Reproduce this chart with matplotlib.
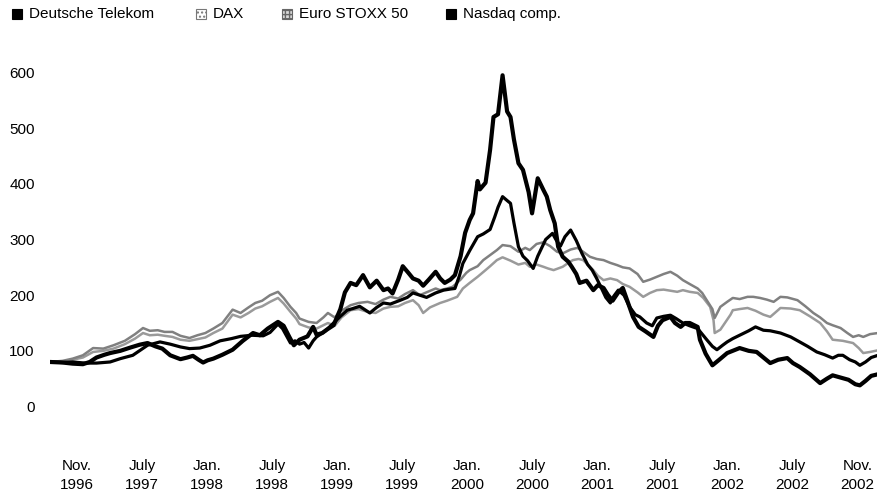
import numpy as np
import matplotlib
matplotlib.use("Agg")
import matplotlib.pyplot as plt
from matplotlib.patches import Rectangle

plt.rcParams['font.family'] = ['Liberation Sans', 'DejaVu Sans']

# months since start of Nov. 1996, index values
dt_months = [0.0, 1.1, 2.0, 2.9, 3.5, 4.1, 4.8, 5.3, 6.2, 7.1,
             7.9, 8.6, 9.3, 9.9, 10.6, 11.5, 12.1, 12.6, 13.1, 13.5,
             13.9, 14.4, 15.2, 16.1, 17.0, 17.9, 18.5, 19.2, 20.1, 20.6,
             21.1, 21.5, 22.0, 22.7, 23.2, 23.5, 24.0, 24.4, 25.0, 25.6,
             26.0, 26.5, 27.0, 27.6, 28.2, 28.8, 29.4, 29.8, 30.2, 30.7,
             31.1, 31.6, 32.0, 32.5, 32.9, 33.4, 34.0, 34.4, 34.8, 35.3,
             35.7, 36.2, 36.6, 37.0, 37.3, 37.7, 37.9, 38.4, 38.8, 39.1,
             39.5, 39.9, 40.3, 40.6, 40.9, 41.3, 41.7, 42.2, 42.5, 43.0,
             43.5, 43.8, 44.1, 44.5, 44.8, 45.2, 45.7, 46.0, 46.4, 46.7,
             47.3, 47.9, 48.3, 48.8, 49.2, 49.6, 50.1, 50.5, 50.9, 51.4,
             51.9, 52.5, 53.2, 53.6, 54.0, 54.7, 55.1, 55.6, 56.0, 56.4,
             57.1, 57.3, 57.8, 58.4, 59.0, 59.7, 60.2, 60.8, 61.6, 62.3,
             62.9, 63.5, 64.2, 65.0, 65.5, 66.1, 67.0, 67.9, 68.5, 69.0,
             69.7, 70.4, 71.0, 71.4, 71.9, 72.4, 73.0]
dt_values = [80, 79, 77, 76, 80, 88, 93, 96, 100, 106,
             111, 114, 108, 104, 92, 85, 88, 91, 84, 79,
             83, 86, 93, 102, 118, 132, 128, 140, 152, 145,
             125, 110, 120, 126, 143, 129, 132, 138, 146, 175,
             205, 222, 218, 236, 214, 226, 209, 212, 203, 228,
             252, 240, 230, 226, 217, 228, 242, 230, 222, 228,
             236, 270, 312, 335, 347, 405, 390, 402, 461, 520,
             525, 595, 530, 520, 480, 437, 425, 385, 347, 410,
             389, 377, 353, 329, 287, 269, 260, 251, 238, 222,
             226, 209, 218, 213, 200, 190, 205, 213, 190, 161,
             143, 135, 125, 145, 155, 161, 150, 143, 150, 150,
             143, 120, 95, 74, 84, 96, 100, 105, 100, 98,
             88, 78, 84, 87, 78, 71, 58, 42, 50, 56,
             52, 48, 40, 38, 46, 55, 58]

nasdaq_months = [0.0, 1.1, 2.0, 3.1, 4.1, 5.3, 6.2, 7.3, 8.6, 9.7,
                 10.6, 11.5, 12.3, 13.2, 14.1, 15.0, 16.0, 16.8, 17.8, 18.8,
                 19.4, 20.1, 20.5, 21.2, 21.6, 22.0, 22.4, 22.8, 23.2, 23.5,
                 24.3, 25.0, 25.6, 26.2, 26.7, 27.3, 27.9, 28.2, 28.8, 29.4,
                 30.0, 30.9, 31.5, 32.0, 32.6, 33.2, 34.0, 34.7, 35.3, 35.7,
                 36.1, 36.4, 37.0, 37.7, 38.2, 38.8, 39.2, 39.5, 39.9, 40.3,
                 40.6, 40.9, 41.3, 41.7, 42.1, 42.6, 43.0, 43.7, 44.3, 44.6,
                 45.0, 45.4, 45.9, 46.4, 46.9, 47.4, 47.8, 48.2, 48.7, 49.0,
                 49.4, 49.7, 50.1, 50.6, 51.1, 51.6, 52.0, 52.6, 53.1, 53.5,
                 54.1, 54.7, 55.2, 55.8, 56.4, 57.1, 57.5, 57.9, 58.4, 58.8,
                 59.3, 59.7, 60.2, 60.8, 61.6, 62.2, 62.9, 63.5, 64.4, 65.3,
                 66.1, 66.8, 67.6, 68.3, 69.0, 69.5, 69.9, 70.5, 71.0, 71.4,
                 71.9, 72.4, 73.0]
nasdaq_values = [80, 79, 80, 78, 78, 80, 86, 92, 110, 116,
                 112, 107, 104, 105, 110, 118, 122, 126, 128, 127,
                 133, 148, 140, 114, 118, 112, 115, 105, 118, 125,
                 136, 150, 162, 173, 176, 180, 172, 168, 178, 186,
                 184, 191, 196, 204, 200, 196, 204, 209, 211, 212,
                 235, 257, 280, 305, 310, 318, 340, 358, 377, 370,
                 365, 330, 287, 270, 262, 248, 270, 300, 311, 300,
                 288, 305, 317, 298, 275, 255, 245, 230, 209, 196,
                 186, 198, 209, 200, 179, 165, 161, 150, 145, 159,
                 162, 164, 158, 150, 145, 140, 130, 120, 108, 102,
                 110, 116, 122, 128, 136, 143, 137, 136, 132, 125,
                 116, 108, 98, 93, 87, 92, 92, 84, 80, 74,
                 80, 88, 92]

stoxx_months = [0.0, 1.1, 2.0, 2.9, 3.8, 4.7, 5.6, 6.6, 7.5, 8.2,
                8.8, 9.5, 10.1, 10.8, 11.5, 12.3, 13.0, 13.7, 14.4, 15.2,
                16.1, 16.8, 17.5, 18.1, 18.7, 19.4, 20.1, 20.6, 21.2, 21.7,
                22.0, 22.8, 23.5, 24.1, 24.5, 25.1, 25.7, 26.5, 27.2, 28.0,
                28.7, 29.4, 30.0, 30.7, 31.3, 32.0, 32.6, 33.3, 34.0, 34.4,
                35.0, 35.5, 36.2, 36.7, 37.0, 37.7, 38.2, 38.8, 39.4, 39.9,
                40.6, 41.3, 41.9, 42.3, 42.9, 43.5, 44.1, 44.7, 45.2, 45.9,
                46.5, 47.0, 47.6, 48.2, 48.8, 49.4, 50.0, 50.5, 51.1, 51.8,
                52.3, 52.9, 53.5, 54.1, 54.7, 55.3, 55.8, 56.4, 57.1, 57.5,
                57.9, 58.4, 58.6, 59.1, 59.7, 60.2, 60.8, 61.5, 62.0, 62.6,
                63.2, 63.8, 64.4, 65.0, 65.9, 66.6, 67.3, 67.9, 68.5, 69.0,
                69.7, 70.3, 70.8, 71.3, 71.7, 72.3, 73.0]
stoxx_values = [80, 82, 86, 92, 105, 104, 110, 118, 130, 141,
                136, 137, 134, 134, 127, 123, 128, 132, 140, 150,
                174, 168, 178, 186, 190, 200, 206, 195, 179, 168,
                158, 152, 150, 160, 168, 160, 172, 182, 186, 188,
                184, 192, 197, 194, 202, 209, 200, 206, 212, 209,
                212, 215, 228, 240, 245, 252, 263, 272, 281, 290,
                288, 278, 285, 281, 292, 295, 288, 278, 275, 282,
                285, 278, 269, 265, 263, 258, 254, 250, 248, 238,
                224, 228, 233, 238, 242, 235, 227, 220, 212, 204,
                191, 175, 159, 179, 188, 195, 193, 197, 197, 195,
                192, 188, 197, 196, 191, 180, 168, 160, 150, 146,
                141, 132, 125, 128, 125, 130, 132]

dax_months = [0.0, 1.1, 2.0, 2.9, 3.8, 4.7, 5.6, 6.6, 7.5, 8.2,
              8.8, 9.5, 10.1, 10.8, 11.5, 12.3, 13.0, 13.7, 14.4, 15.2,
              16.1, 16.8, 17.5, 18.1, 18.7, 19.4, 20.1, 20.6, 21.2, 21.7,
              22.0, 22.8, 23.5, 24.1, 24.5, 25.1, 25.7, 26.5, 27.2, 28.0,
              28.7, 29.4, 30.0, 30.7, 31.3, 32.0, 32.5, 32.9, 33.5, 34.4,
              35.0, 35.9, 36.4, 37.0, 37.7, 38.4, 38.8, 39.4, 39.9, 40.6,
              41.3, 41.9, 42.3, 42.9, 43.5, 43.9, 44.4, 44.8, 45.2, 45.7,
              46.1, 46.6, 47.0, 47.4, 47.9, 48.3, 48.8, 49.4, 50.0, 50.5,
              51.1, 51.8, 52.3, 52.9, 53.5, 54.1, 54.7, 55.3, 55.8, 56.4,
              57.1, 57.6, 58.2, 58.5, 58.6, 59.1, 59.5, 60.0, 60.2, 60.8,
              61.5, 62.2, 62.9, 63.5, 63.9, 64.4, 65.3, 66.1, 67.0, 67.9,
              68.5, 69.0, 69.9, 70.8, 71.3, 71.7, 72.3, 73.0]
dax_values = [79, 80, 84, 88, 98, 100, 104, 112, 122, 132,
              128, 129, 127, 125, 120, 118, 121, 124, 132, 140,
              165, 160, 168, 176, 180, 188, 195, 185, 170, 158,
              148, 142, 140, 146, 150, 145, 160, 173, 175, 170,
              168, 176, 179, 180, 186, 191, 182, 168, 178, 186,
              190, 197, 212, 222, 233, 245, 252, 263, 268, 262,
              255, 258, 251, 255, 251, 248, 245, 248, 251, 258,
              263, 265, 263, 255, 245, 235, 227, 230, 227, 220,
              215, 205, 197, 204, 209, 210, 208, 206, 209, 206,
              204, 195, 179, 155, 132, 138, 150, 165, 173, 175,
              177, 172, 165, 161, 168, 177, 176, 173, 162, 150,
              135, 120, 118, 114, 105, 96, 98, 101]

tick_labels = ["Nov.\n1996", "July\n1997", "Jan.\n1998", "July\n1998", "Jan.\n1999",
               "July\n1999", "Jan.\n2000", "July\n2000", "Jan.\n2001", "July\n2001",
               "Jan.\n2002", "July\n2002", "Nov.\n2002"]
y_ticks = [0, 100, 200, 300, 400, 500, 600]

W, H = 878, 494
fig = plt.figure(figsize=(W / 100, H / 100), dpi=100)
ax = fig.add_axes([50 / W, (H - 430) / H, (W - 50) / W, 380 / H])

ax.plot(dax_months, dax_values, color='#9a9a9a', lw=1.8, solid_joinstyle='round')
ax.plot(stoxx_months, stoxx_values, color='#808080', lw=1.8, solid_joinstyle='round')
ax.plot(nasdaq_months, nasdaq_values, color='black', lw=2.3, solid_joinstyle='round')
ax.plot(dt_months, dt_values, color='black', lw=3.0, solid_joinstyle='round')

ax.set_xlim(0, 73)
ax.set_ylim(-42.2, 640.4)
for s in ax.spines.values():
    s.set_visible(False)

ax.set_yticks(y_ticks)
ax.set_yticklabels([str(v) for v in y_ticks])
ax.tick_params(axis='y', length=0, pad=11, labelsize=11)

# labels sit evenly spaced along the bottom, not at exact dates
ax.set_xticks(np.linspace(2.4, 71.2, len(tick_labels)))
ax.set_xticklabels(tick_labels, linespacing=1.45)
ax.tick_params(axis='x', length=0, pad=21, labelsize=11)

# legend row along the top
legend_items = [
    ("Deutsche Telekom", 12, dict(facecolor='black', edgecolor='black')),
    ("DAX", 196, dict(facecolor='white', edgecolor='#777777', hatch='....')),
    ("Euro STOXX 50", 282, dict(facecolor='#d8d8d8', edgecolor='#666666', hatch='++++')),
    ("Nasdaq comp.", 446, dict(facecolor='black', edgecolor='black')),
]
for name, px, style in legend_items:
    fig.add_artist(Rectangle((px / W, (H - 19) / H), 10 / W, 10 / H,
                             transform=fig.transFigure, lw=0.8, **style))
    fig.text((px + 17) / W, (H - 14) / H, name, ha='left', va='center', fontsize=11)

fig.savefig("out.png", dpi=100)
